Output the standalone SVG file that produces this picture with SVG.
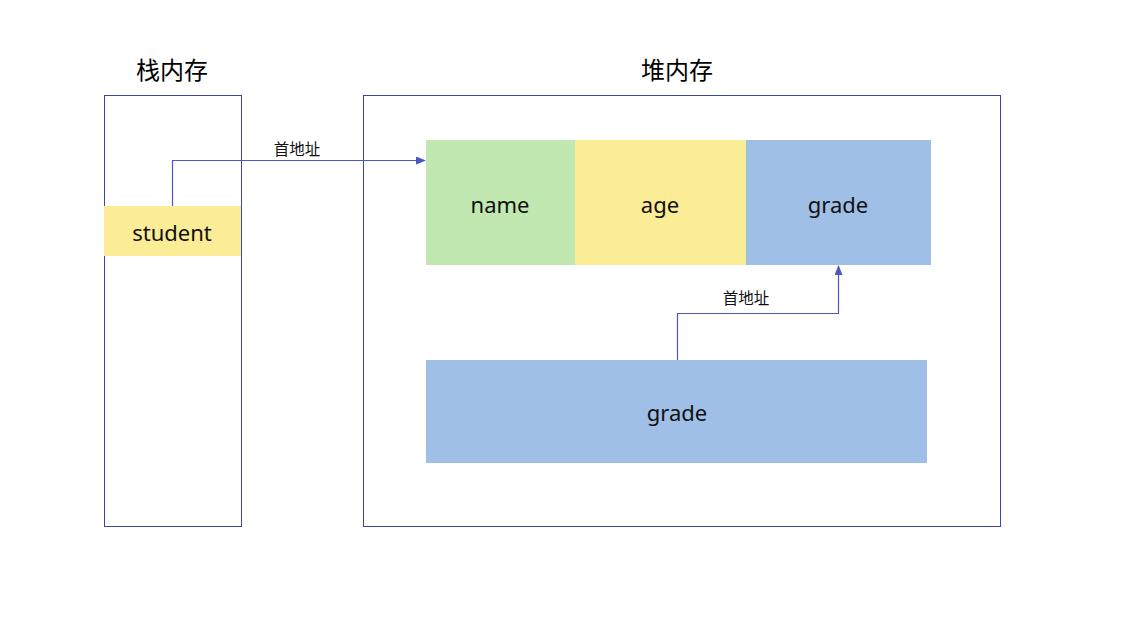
<svg xmlns="http://www.w3.org/2000/svg" width="1140" height="623" viewBox="0 0 1140 623">
<style>
.frame{fill:none;stroke:#3b47a6;stroke-width:1}
.title{font-family:"Noto Sans CJK SC","Noto Sans",sans-serif;font-size:24px;fill:#000;text-anchor:middle}
.lbl{font-family:"Noto Sans","Liberation Sans",sans-serif;font-size:22px;fill:#111;text-anchor:middle}
.note{font-family:"Noto Sans CJK SC",sans-serif;font-size:15.5px;fill:#111;text-anchor:middle}
.conn{fill:none;stroke:#4a57c4;stroke-width:1.2}
</style>
<defs>
<marker id="arr" markerWidth="10" markerHeight="8" refX="9" refY="4" orient="auto" markerUnits="userSpaceOnUse">
<path d="M0,0 L10,4 L0,8 Z" fill="#4a57c4"/>
</marker>
</defs>
<rect width="1140" height="623" fill="#fff"/>
<g id="stack">
<text class="title" x="172" y="79">栈内存</text>
<rect class="frame" x="104.5" y="95.5" width="137" height="431"/>
</g>
<g id="heap">
<text class="title" x="677" y="79">堆内存</text>
<rect class="frame" x="363.5" y="95.5" width="637" height="431"/>
</g>
<g id="student">
<rect x="104" y="206" width="137" height="50" fill="#fbec96"/>
<text class="lbl" x="172" y="241">student</text>
</g>
<g id="name">
<rect x="426" y="140" width="149" height="125" fill="#c1e8b1"/>
<text class="lbl" x="500" y="213">name</text>
</g>
<g id="age">
<rect x="575" y="140" width="171" height="125" fill="#fbec96"/>
<text class="lbl" x="660" y="213">age</text>
</g>
<g id="grade">
<rect x="746" y="140" width="185" height="125" fill="#9fbfe7"/>
<text class="lbl" x="838" y="213">grade</text>
</g>
<g id="grade2">
<rect x="426" y="360" width="501" height="103" fill="#9fbfe7"/>
<text class="lbl" x="677" y="421">grade</text>
</g>
<g id="connectors">
<polyline class="conn" points="172.5,206 172.5,160.5 425,160.5" marker-end="url(#arr)"/>
<text class="note" x="297" y="155">首地址</text>
<polyline class="conn" points="677.5,360 677.5,313.5 838.5,313.5 838.5,266" marker-end="url(#arr)"/>
<text class="note" x="746" y="304">首地址</text>
</g>
</svg>
